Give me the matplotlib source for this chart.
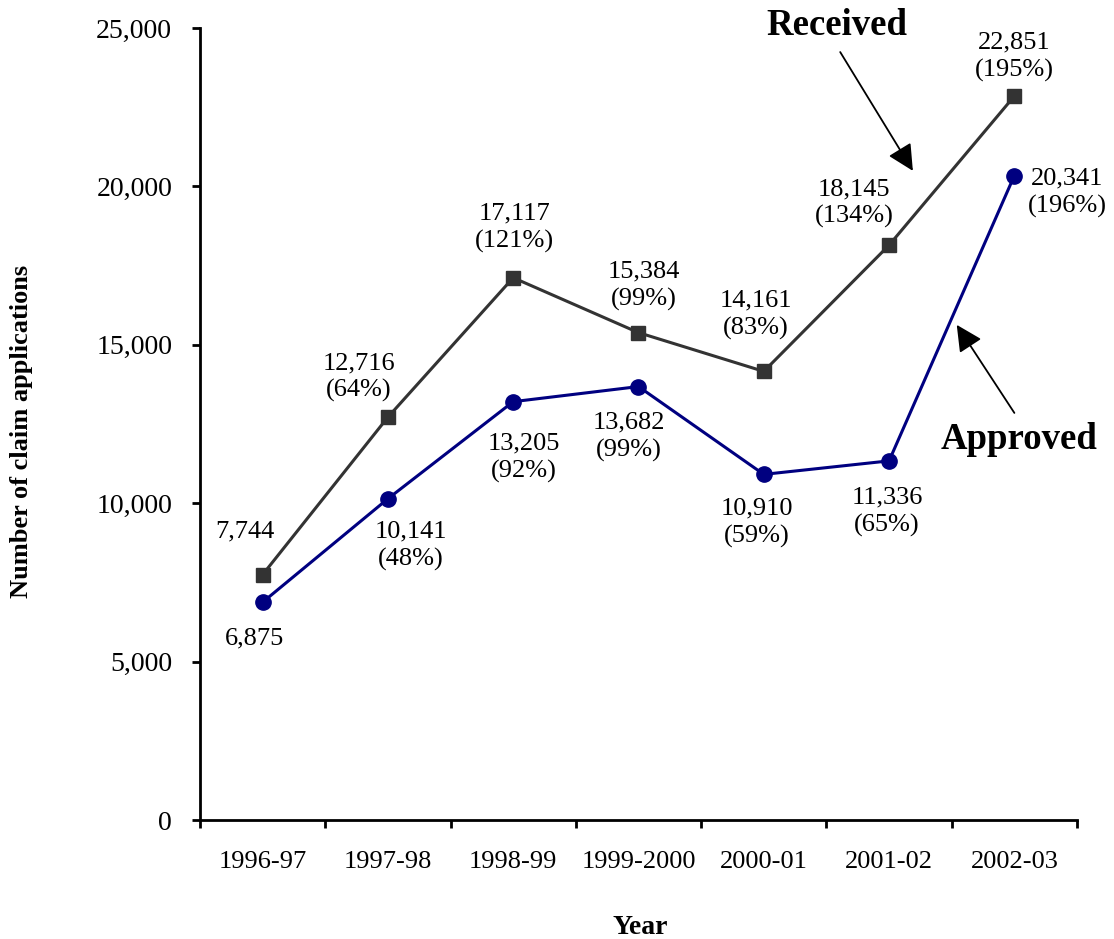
import matplotlib
matplotlib.use('Agg')
import matplotlib.pyplot as plt
from matplotlib.ticker import FuncFormatter

plt.rcParams['font.family'] = ['Liberation Serif', 'DejaVu Serif']

# Claim applications per financial year
years = ['1996-97', '1997-98', '1998-99', '1999-2000', '2000-01', '2001-02', '2002-03']
received = [7744, 12716, 17117, 15384, 14161, 18145, 22851]
approved = [6875, 10141, 13205, 13682, 10910, 11336, 20341]
received_pct = [None, 64, 121, 99, 83, 134, 195]
approved_pct = [None, 48, 92, 99, 59, 65, 196]

# label offsets in pixels (dx, dy) relative to each point
received_off = [(-18, 43), (-29, 40), (1, 50), (5, 47), (-8, 57), (-35, 42), (0, 39)]
approved_off = [(-8, -36), (23, -47), (11, -56), (-10, -50), (-7, -48), (-2, -51), (53, -17)]

fig = plt.figure(figsize=(11.14, 9.39), dpi=100)
ax = fig.add_axes([0.1795, 0.1267, 0.9668 - 0.1795, 0.9702 - 0.1267])

x = list(range(len(years)))
ax.plot(x, received, color='#333333', lw=2.2, marker='s', markersize=10.5, zorder=3)
ax.plot(x, approved, color='#000080', lw=2.2, marker='o', markersize=11, zorder=3)


def label_text(val, pct):
    s = f'{val:,}'
    if pct is not None:
        s += f'\n({pct}%)'
    return s


for xi, v, p, off in zip(x, received, received_pct, received_off):
    ax.annotate(label_text(v, p), (xi, v), textcoords='offset pixels', xytext=off,
                ha='center', va='center', fontsize=19, linespacing=1.3)
for xi, v, p, off in zip(x, approved, approved_pct, approved_off):
    ax.annotate(label_text(v, p), (xi, v), textcoords='offset pixels', xytext=off,
                ha='center', va='center', fontsize=19, linespacing=1.3)

# series call-outs
arrow = dict(arrowstyle='-|>', color='black', lw=1.3, mutation_scale=40, shrinkA=0, shrinkB=0)
ax.annotate('', xy=(5.19, 20490), xytext=(4.61, 24240), arrowprops=arrow)
ax.text(4.58, 25070, 'Received', ha='center', va='center', fontsize=26.5, fontweight='bold')
ax.annotate('', xy=(5.54, 15630), xytext=(6.0, 12850), arrowprops=arrow)
ax.text(6.04, 12000, 'Approved', ha='center', va='center', fontsize=26.5, fontweight='bold')

ax.set_xlim(-0.5, 6.5)
ax.set_ylim(0, 25000)
ax.set_yticks(range(0, 25001, 5000))
ax.yaxis.set_major_formatter(FuncFormatter(lambda v, _: f'{int(v):,}'))

# tick marks sit between categories, labels at the centres
ax.set_xticks([i - 0.5 for i in range(len(years) + 1)])
ax.set_xticklabels([])
ax.set_xticks(x, minor=True)
ax.set_xticklabels(years, minor=True, fontsize=19)
ax.tick_params(axis='x', which='major', direction='out', length=6, width=2)
ax.tick_params(axis='x', which='minor', length=0, pad=22)
ax.tick_params(axis='y', direction='out', length=6, width=2, pad=14, labelsize=20)

for side in ['top', 'right']:
    ax.spines[side].set_visible(False)
for side in ['left', 'bottom']:
    ax.spines[side].set_linewidth(2)

ax.set_ylabel('Number of claim applications', fontsize=19, fontweight='bold')
ax.yaxis.set_label_coords(-0.19, 0.49)
ax.set_xlabel('Year', fontsize=20, fontweight='bold')
ax.xaxis.set_label_coords(0.502, -0.12)

plt.savefig('out.png', dpi=100)
plt.close()
